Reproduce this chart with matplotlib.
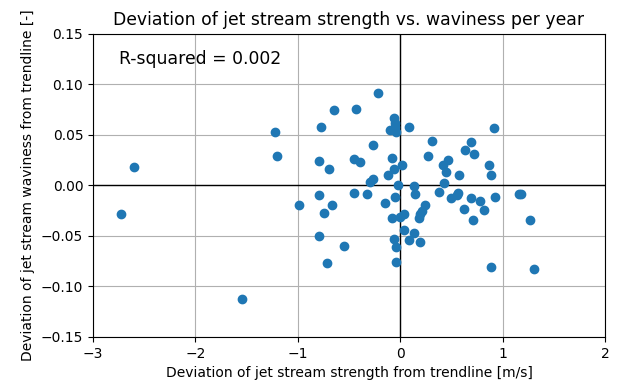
import matplotlib
matplotlib.use("Agg")
import matplotlib.pyplot as plt

# deviation of jet stream strength from trendline [m/s]
strength_dev = [-2.73, -2.60, -1.545, -1.22, -1.20, -0.984, -0.79, -0.70, -0.772, -0.642,
                -0.789, -0.668, -0.74, -0.789, -0.717, -0.547, -0.433, -0.222, -0.267, -0.447,
                -0.39, -0.267, -0.293, -0.45, -0.32, -0.153, -0.12, -0.065, -0.081, -0.06,
                -0.05, -0.05, -0.1, -0.04, 0.016, -0.026, -0.055, -0.081, 0.0, 0.033,
                0.033, 0.13, -0.059, -0.042, 0.081, 0.196, -0.042, 0.088, 0.13, 0.143,
                0.244, 0.212, 0.196, 0.186, 0.267, 0.31, 0.381, 0.414, 0.45, 0.423,
                0.463, 0.495, 0.554, 0.56, 0.577, 0.619, 0.629, 0.69, 0.717, 0.69,
                0.707, 0.782, 0.815, 0.863, 0.89, 0.912, 0.929, 0.89, 1.16, 1.18,
                1.264, 1.31]
# deviation of jet stream waviness from trendline [-]
waviness_dev = [-0.028, 0.018, -0.112, 0.053, 0.029, -0.020, 0.024, 0.016, 0.058, 0.074,
                -0.010, -0.020, -0.027, -0.050, -0.077, -0.060, 0.075, 0.091, 0.040, 0.026,
                0.023, 0.0066, 0.0033, -0.0076, -0.009, -0.018, 0.010, 0.0165, 0.027, 0.066,
                0.062, 0.058, 0.055, 0.053, 0.020, 0.0, -0.0115, -0.032, -0.031, -0.028,
                -0.044, -0.047, -0.053, -0.061, -0.054, -0.0565, -0.076, 0.058, -0.001, -0.009,
                -0.020, -0.025, -0.028, -0.032, 0.029, 0.044, -0.0066, 0.020, 0.013, 0.0023,
                0.025, -0.013, -0.010, -0.0076, 0.010, -0.023, 0.035, 0.043, 0.031, -0.013,
                -0.034, -0.0155, -0.024, 0.020, 0.010, 0.057, -0.012, -0.081, -0.009, -0.009,
                -0.034, -0.083]
r_squared = 0.002

fig = plt.figure(figsize=(6.17, 3.81), dpi=100)
ax = fig.add_axes([0.1507, 0.1155, 0.83, 0.7965])
ax.scatter(strength_dev, waviness_dev, zorder=3)
ax.axhline(0, color="black", linewidth=1, zorder=2)
ax.axvline(0, color="black", linewidth=1, zorder=2)
ax.grid(True)
ax.set_xlim(-3, 2)
ax.set_ylim(-0.15, 0.15)
ax.text(-2.75, 0.125, "R-squared = " + str(r_squared), fontsize=12.4, va="center")
ax.set_title("Deviation of jet stream strength vs. waviness per year", fontsize=12.4)
ax.set_xlabel("Deviation of jet stream strength from trendline [m/s]")
ax.set_ylabel("Deviation of jet stream waviness from trendline [-]")
fig.savefig("out.png", dpi=100)
